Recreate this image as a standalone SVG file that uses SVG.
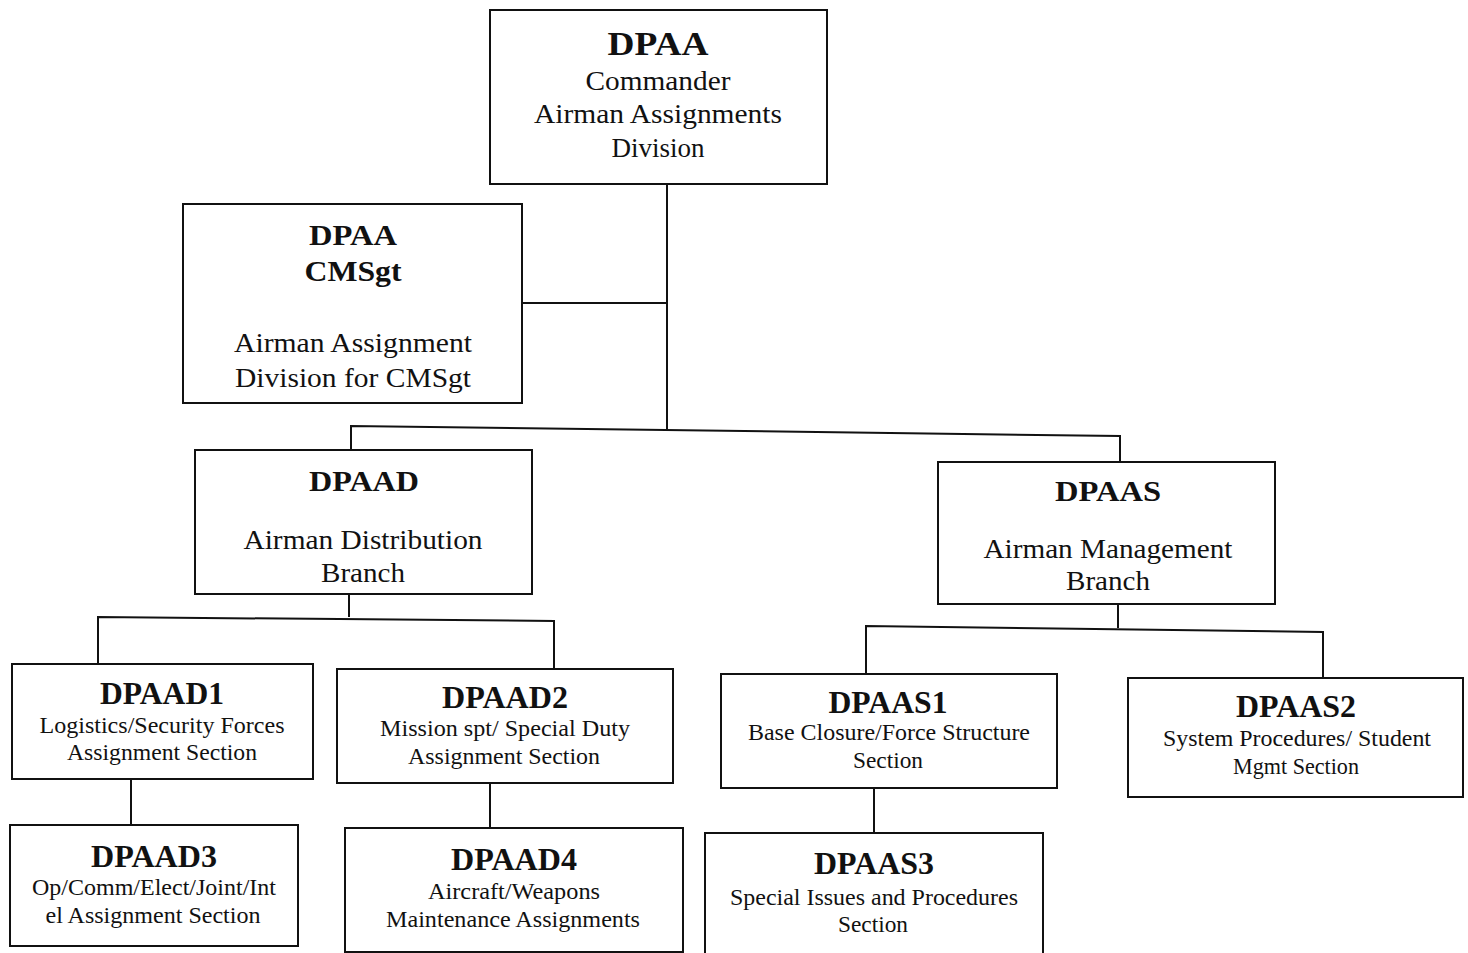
<svg xmlns="http://www.w3.org/2000/svg" width="1468" height="953" viewBox="0 0 1468 953">
<style>
.box{fill:#fff;stroke:#111;stroke-width:2}
.con{fill:none;stroke:#111;stroke-width:2}
text{font-family:"Liberation Serif","Times New Roman",serif;fill:#111;text-anchor:middle}
.b1{font-weight:bold;font-size:34px}
.b2{font-weight:bold;font-size:30px}
.b3{font-weight:bold;font-size:31px}
.n1{font-size:27px}
.n3{font-size:24px}
</style>
<rect width="1468" height="953" fill="#fff"/>
<g id="connectors">
<polyline class="con" points="667,184 667,429"/>
<polyline class="con" points="522,303 667,303"/>
<polyline class="con" points="351,451 351,426 1120,436 1120,462"/>
<polyline class="con" points="349,594 349,617"/>
<polyline class="con" points="98,664 98,617 554,621 554,669"/>
<polyline class="con" points="131,779 131,825"/>
<polyline class="con" points="490,783 490,828"/>
<polyline class="con" points="1118,604 1118,628"/>
<polyline class="con" points="866,674 866,626 1323,632 1323,678"/>
<polyline class="con" points="874,788 874,833"/>
</g>
<g id="DPAA">
<rect class="box" x="490" y="10" width="337" height="174"/>
<text class="b1" x="658" y="55" textLength="101" lengthAdjust="spacingAndGlyphs">DPAA</text>
<text class="n1" x="658" y="90" textLength="145" lengthAdjust="spacingAndGlyphs">Commander</text>
<text class="n1" x="658" y="123" textLength="248" lengthAdjust="spacingAndGlyphs">Airman Assignments</text>
<text class="n1" x="658" y="157" textLength="93" lengthAdjust="spacingAndGlyphs">Division</text>
</g>
<g id="DPAA_CMSgt">
<rect class="box" x="183" y="204" width="339" height="199"/>
<text class="b2" x="353" y="245" textLength="88" lengthAdjust="spacingAndGlyphs">DPAA</text>
<text class="b2" x="353" y="281" textLength="97" lengthAdjust="spacingAndGlyphs">CMSgt</text>
<text class="n1" x="353" y="352" textLength="238" lengthAdjust="spacingAndGlyphs">Airman Assignment</text>
<text class="n1" x="353" y="387" textLength="236" lengthAdjust="spacingAndGlyphs">Division for CMSgt</text>
</g>
<g id="DPAAD">
<rect class="box" x="195" y="450" width="337" height="144"/>
<text class="b2" x="364" y="491" textLength="110" lengthAdjust="spacingAndGlyphs">DPAAD</text>
<text class="n1" x="363" y="549" textLength="239" lengthAdjust="spacingAndGlyphs">Airman Distribution</text>
<text class="n1" x="363" y="582" textLength="84" lengthAdjust="spacingAndGlyphs">Branch</text>
</g>
<g id="DPAAS">
<rect class="box" x="938" y="462" width="337" height="142"/>
<text class="b2" x="1108" y="501" textLength="106" lengthAdjust="spacingAndGlyphs">DPAAS</text>
<text class="n1" x="1108" y="558" textLength="249" lengthAdjust="spacingAndGlyphs">Airman Management</text>
<text class="n1" x="1108" y="590" textLength="84" lengthAdjust="spacingAndGlyphs">Branch</text>
</g>
<g id="DPAAD1">
<rect class="box" x="12" y="664" width="301" height="115"/>
<text class="b3" x="162" y="704" textLength="124" lengthAdjust="spacingAndGlyphs">DPAAD1</text>
<text class="n3" x="162" y="733" textLength="245" lengthAdjust="spacingAndGlyphs">Logistics/Security Forces</text>
<text class="n3" x="162" y="760" textLength="190" lengthAdjust="spacingAndGlyphs">Assignment Section</text>
</g>
<g id="DPAAD2">
<rect class="box" x="337" y="669" width="336" height="114"/>
<text class="b3" x="505" y="708" textLength="126" lengthAdjust="spacingAndGlyphs">DPAAD2</text>
<text class="n3" x="505" y="736" textLength="250" lengthAdjust="spacingAndGlyphs">Mission spt/ Special Duty</text>
<text class="n3" x="504" y="764" textLength="192" lengthAdjust="spacingAndGlyphs">Assignment Section</text>
</g>
<g id="DPAAD3">
<rect class="box" x="10" y="825" width="288" height="121"/>
<text class="b3" x="154" y="867" textLength="126" lengthAdjust="spacingAndGlyphs">DPAAD3</text>
<text class="n3" x="154" y="895" textLength="244" lengthAdjust="spacingAndGlyphs">Op/Comm/Elect/Joint/Int</text>
<text class="n3" x="153" y="923" textLength="215" lengthAdjust="spacingAndGlyphs">el Assignment Section</text>
</g>
<g id="DPAAD4">
<rect class="box" x="345" y="828" width="338" height="124"/>
<text class="b3" x="514" y="870" textLength="126" lengthAdjust="spacingAndGlyphs">DPAAD4</text>
<text class="n3" x="514" y="899" textLength="172" lengthAdjust="spacingAndGlyphs">Aircraft/Weapons</text>
<text class="n3" x="513" y="927" textLength="254" lengthAdjust="spacingAndGlyphs">Maintenance Assignments</text>
</g>
<g id="DPAAS1">
<rect class="box" x="721" y="674" width="336" height="114"/>
<text class="b3" x="888" y="713" textLength="119" lengthAdjust="spacingAndGlyphs">DPAAS1</text>
<text class="n3" x="889" y="740" textLength="282" lengthAdjust="spacingAndGlyphs">Base Closure/Force Structure</text>
<text class="n3" x="888" y="768" textLength="70" lengthAdjust="spacingAndGlyphs">Section</text>
</g>
<g id="DPAAS2">
<rect class="box" x="1128" y="678" width="335" height="119"/>
<text class="b3" x="1296" y="717" textLength="120" lengthAdjust="spacingAndGlyphs">DPAAS2</text>
<text class="n3" x="1297" y="746" textLength="268" lengthAdjust="spacingAndGlyphs">System Procedures/ Student</text>
<text class="n3" x="1296" y="774" textLength="126" lengthAdjust="spacingAndGlyphs">Mgmt Section</text>
</g>
<g id="DPAAS3">
<rect class="box" x="705" y="833" width="338" height="125"/>
<text class="b3" x="874" y="874" textLength="120" lengthAdjust="spacingAndGlyphs">DPAAS3</text>
<text class="n3" x="874" y="905" textLength="288" lengthAdjust="spacingAndGlyphs">Special Issues and Procedures</text>
<text class="n3" x="873" y="932" textLength="70" lengthAdjust="spacingAndGlyphs">Section</text>
</g>
</svg>
